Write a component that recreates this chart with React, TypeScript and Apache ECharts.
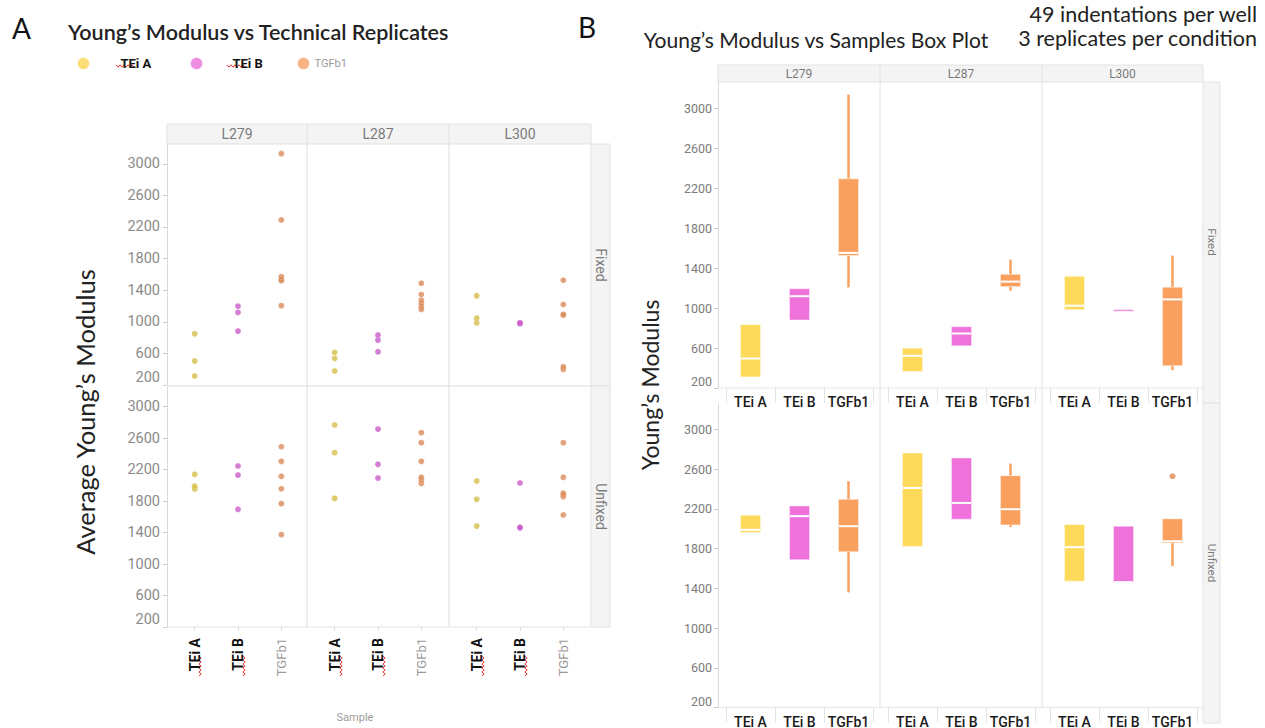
import React, { useEffect, useRef } from "react";
import * as echarts from "echarts";

// ---------- categories ----------
const groups = ["TEi A", "TEi B", "TGFb1"];
const cellLines = ["L279", "L287", "L300"];
const conditions = ["Fixed", "Unfixed"];
const yTickLabelsStart = 200;
const yTickStep = 400;

// ---------- Panel A: average Young's modulus per technical replicate ----------
// [TEi A, TEi B, TGFb1]
const fixedL279 = [[314, 503, 848], [882, 1118, 1197], [1204, 1520, 1530, 1571, 2289, 3128]];
const fixedL287 = [[377, 537, 613], [620, 768, 831], [1156, 1189, 1232, 1273, 1345, 1488]];
const fixedL300 = [[987, 1046, 1328], [975, 980, 987], [398, 431, 1084, 1093, 1219, 1526]];
const unfixedL279 = [[1955, 1990, 2140], [1696, 2131, 2246], [1373, 1767, 1957, 2115, 2305, 2491]];
const unfixedL287 = [[1835, 2415, 2767], [2093, 2267, 2715], [2026, 2068, 2102, 2305, 2542, 2669]];
const unfixedL300 = [[1483, 1823, 2055], [1460, 1467, 2030], [1623, 1856, 1877, 1899, 2102, 2542]];

// ---------- Panel B: box statistics [min, Q1, median, Q3, max] ----------
const boxFixedL279 = [[311, 311, 495, 833, 833], [880, 880, 1118, 1193, 1193], [1206, 1524, 1551, 2292, 3134]];
const boxFixedL287 = [[365, 365, 522, 598, 598], [622, 622, 745, 813, 813], [1174, 1214, 1264, 1337, 1484]];
const boxFixedL300 = [[983, 983, 1023, 1317, 1317], [972, 972, 976, 980, 980], [378, 422, 1086, 1208, 1524]];
const boxUnfixedL279 = [[1962, 1962, 1988, 2136, 2136], [1687, 1687, 2126, 2229, 2229], [1359, 1767, 2025, 2296, 2478]];
const boxUnfixedL287 = [[1821, 1821, 2410, 2762, 2762], [2096, 2096, 2259, 2712, 2712], [2015, 2038, 2196, 2534, 2655]];
const boxUnfixedL300 = [[1472, 1472, 1814, 2042, 2042], [1455, 1455, 1462, 2025, 2025], [1623, 1857, 1874, 2099, 2099]];
// outliers: [group index, value]
const outliersUnfixedL300 = [[2, 2528]];

const pointsA = [
  [fixedL279, fixedL287, fixedL300],
  [unfixedL279, unfixedL287, unfixedL300],
];
const boxesB = [
  [boxFixedL279, boxFixedL287, boxFixedL300],
  [boxUnfixedL279, boxUnfixedL287, boxUnfixedL300],
];

// ---------- styles ----------
const boxColors = ["#FEDA5A", "#EE72DA", "#F9A05E"];
const dotColors = ["#D6BE48", "#C95CC9", "#DB8B58"];
const legendColors = ["#F9D552", "#E96FD8", "#F5A063"];
const gridLine = "#DDDDDD";
const stripFill = "#F4F4F4";
const stripStroke = "#E2E2E2";
const tickFont = "Roboto, sans-serif";
const titleFont = "Lato, 'Open Sans', sans-serif";

// layout (pixels)
const colLeftA = [167, 307, 449];
const colRightA = [307, 449, 591];
const rowTopA = [144, 387];
const rowBotA = [385, 627];
const yMaxA = [3250, 3250];

const colLeftB = [718, 880, 1042];
const colRightB = [880, 1042, 1203];
const rowTopB = [82, 404];
const rowBotB = [388, 707.5];
const yMaxB = [3260, 3255];

function squiggleH(x0: number, x1: number, y: number) {
  const pts: number[][] = [];
  let i = 0;
  for (let x = x0; x <= x1; x += 2, i++) pts.push([x, y + (i % 2 ? 1.2 : -1.2)]);
  return { type: "polyline", silent: true, shape: { points: pts }, style: { stroke: "#E53935", lineWidth: 1, fill: null } };
}
function squiggleV(x: number, y0: number, y1: number) {
  const pts: number[][] = [];
  let i = 0;
  for (let y = y0; y <= y1; y += 2, i++) pts.push([x + (i % 2 ? 1.2 : -1.2), y]);
  return { type: "polyline", silent: true, shape: { points: pts }, style: { stroke: "#E53935", lineWidth: 1, fill: null } };
}
function line(x1: number, y1: number, x2: number, y2: number, color = gridLine) {
  return { type: "line", silent: true, shape: { x1, y1, x2, y2 }, style: { stroke: color, lineWidth: 1 } };
}
function rect(x: number, y: number, width: number, height: number) {
  return { type: "rect", silent: true, shape: { x, y, width, height }, style: { fill: stripFill, stroke: stripStroke, lineWidth: 1 } };
}
function text(x: number, y: number, t: string, style: any, rotation = 0) {
  return {
    type: "text",
    silent: true,
    x,
    y,
    rotation,
    style: { text: t, align: "center", verticalAlign: "middle", ...style },
  };
}

function buildOption() {
  const grid: any[] = [];
  const xAxis: any[] = [];
  const yAxis: any[] = [];
  const series: any[] = [];

  // ---------- Panel A ----------
  for (let r = 0; r < 2; r++) {
    for (let c = 0; c < 3; c++) {
      const i = grid.length;
      grid.push({
        left: colLeftA[c] + 6,
        width: 130,
        top: rowTopA[r],
        height: rowBotA[r] - rowTopA[r],
        outerBoundsMode: "none",
      });
      xAxis.push({
        type: "category",
        gridIndex: i,
        data: groups,
        boundaryGap: true,
        axisLine: { show: false },
        axisTick: r === 1 ? { show: true, alignWithLabel: true, length: 4, lineStyle: { color: "#DDDDDD" } } : { show: false },
        axisLabel:
          r === 1
            ? {
                show: true,
                rotate: 90,
                margin: 11,
                interval: 0,
                formatter: (v: string) => (v === "TGFb1" ? `{g|${v}}` : `{b|${v}}`),
                rich: {
                  b: { fontFamily: tickFont, fontWeight: "bold", fontSize: 14, color: "#111111" },
                  g: { fontFamily: tickFont, fontSize: 13, color: "#9A9A9A" },
                },
              }
            : { show: false },
        splitLine: { show: false },
      });
      yAxis.push({
        type: "value",
        gridIndex: i,
        min: yTickLabelsStart,
        max: yMaxA[r],
        interval: yTickStep,
        show: c === 0,
        offset: 6,
        axisLine: { show: true, lineStyle: { color: "#DADADA" } },
        axisTick: { show: true, length: 4, lineStyle: { color: "#CCCCCC" } },
        axisLabel: {
          fontFamily: tickFont,
          fontSize: 14.5,
          color: "#8A8A8A",
          margin: 7,
          showMaxLabel: false,
          verticalAlignMinLabel: "bottom",
          formatter: (v: number) => String(v),
        },
        splitLine: { show: false },
      });
      pointsA[r][c].forEach((vals, g) => {
        series.push({
          type: "scatter",
          name: groups[g],
          xAxisIndex: i,
          yAxisIndex: i,
          symbol: "circle",
          symbolSize: 6,
          itemStyle: { color: dotColors[g], borderColor: "rgba(255,255,255,0.5)", borderWidth: 0.5 },
          data: vals.map((v) => [groups[g], v]),
        });
      });
    }
  }

  // ---------- Panel B ----------
  for (let r = 0; r < 2; r++) {
    for (let c = 0; c < 3; c++) {
      const i = grid.length;
      grid.push({
        left: colLeftB[c] + 8,
        width: 147,
        top: rowTopB[r],
        height: rowBotB[r] - rowTopB[r],
        outerBoundsMode: "none",
      });
      xAxis.push({
        type: "category",
        gridIndex: i,
        data: groups,
        boundaryGap: true,
        axisLine: { show: false },
        axisTick: { show: true, length: 15, interval: 0, lineStyle: { color: "#E3E3E3" } },
        axisLabel: {
          show: true,
          interval: 0,
          margin: 7,
          fontFamily: tickFont,
          fontSize: 14,
          fontWeight: 500,
          color: "#1A1A1A",
        },
        splitLine: { show: false },
      });
      yAxis.push({
        type: "value",
        gridIndex: i,
        min: yTickLabelsStart,
        max: yMaxB[r],
        interval: yTickStep,
        show: c === 0,
        offset: 8,
        axisLine: { show: true, lineStyle: { color: "#DADADA" } },
        axisTick: { show: true, length: 4, lineStyle: { color: "#CCCCCC" } },
        axisLabel: {
          fontFamily: tickFont,
          fontSize: 12.5,
          color: "#7B7B7B",
          margin: 6,
          showMaxLabel: false,
          verticalAlignMinLabel: "bottom",
          formatter: (v: number) => String(v),
        },
        splitLine: { show: false },
      });
      series.push({
        type: "custom",
        name: `${cellLines[c]} ${conditions[r]}`,
        xAxisIndex: i,
        yAxisIndex: i,
        encode: { x: 0, y: [1, 2, 3, 4, 5] },
        data: boxesB[r][c].map((s, g) => [g, ...s]),
        renderItem: (params: any, api: any) => {
          const gi = api.value(0);
          const cx = api.coord([gi, api.value(3)])[0];
          const yMin = api.coord([gi, api.value(1)])[1];
          const yQ1 = api.coord([gi, api.value(2)])[1];
          const yMed = api.coord([gi, api.value(3)])[1];
          const yQ3 = api.coord([gi, api.value(4)])[1];
          const yMax = api.coord([gi, api.value(5)])[1];
          const w = api.size([1, 0])[0] * 0.41;
          const color = boxColors[gi];
          const children: any[] = [];
          if (yMin - yQ1 > 0.5)
            children.push({ type: "line", shape: { x1: cx, y1: yQ1, x2: cx, y2: yMin }, style: { stroke: color, lineWidth: 2.5 } });
          if (yQ3 - yMax > 0.5)
            children.push({ type: "line", shape: { x1: cx, y1: yMax, x2: cx, y2: yQ3 }, style: { stroke: color, lineWidth: 2.5 } });
          const h = yQ1 - yQ3;
          const hh = Math.max(h, 1.5);
          const top = h >= 1.5 ? yQ3 : (yQ1 + yQ3) / 2 - 0.75;
          children.push({
            type: "rect",
            shape: { x: cx - w / 2, y: top, width: w, height: hh },
            style: { fill: color, stroke: "rgba(255,255,255,0.45)", lineWidth: 1 },
          });
          if (h > 4)
            children.push({
              type: "line",
              shape: { x1: cx - w / 2 + 0.5, y1: yMed, x2: cx + w / 2 - 0.5, y2: yMed },
              style: { stroke: "#FFFFFF", lineWidth: 2 },
            });
          return { type: "group", children };
        },
      });
    }
  }
  // outlier in B, Unfixed / L300
  series.push({
    type: "scatter",
    name: "outlier",
    xAxisIndex: 11,
    yAxisIndex: 11,
    symbolSize: 6,
    itemStyle: { color: "#E0884F" },
    data: outliersUnfixedL300.map(([g, v]) => [groups[g], v]),
  });

  // ---------- graphics ----------
  const el: any[] = [];
  // Panel A frame
  el.push(rect(colLeftA[0], 124, colRightA[2] - colLeftA[0], 20));
  el.push(line(colLeftA[1], 124, colLeftA[1], 144, stripStroke), line(colLeftA[2], 124, colLeftA[2], 144, stripStroke));
  cellLines.forEach((l, c) =>
    el.push(text((colLeftA[c] + colRightA[c]) / 2, 134, l, { fontSize: 14, fill: "#7A7A7A", fontFamily: tickFont }))
  );
  el.push(rect(591, 144, 19, 242), rect(591, 386, 19, 241));
  el.push(text(600.5, 265, conditions[0], { fontSize: 14, fill: "#7A7A7A", fontFamily: tickFont }, -Math.PI / 2));
  el.push(text(600.5, 506.5, conditions[1], { fontSize: 14, fill: "#7A7A7A", fontFamily: tickFont }, -Math.PI / 2));
  el.push(line(colLeftA[1], 144, colLeftA[1], 627), line(colLeftA[2], 144, colLeftA[2], 627));
  el.push(line(167, 386, 591, 386), line(167, 627, 591, 627, "#E3E3E3"));

  // Panel B frame
  el.push(rect(colLeftB[0], 65, colRightB[2] - colLeftB[0], 17));
  el.push(line(colLeftB[1], 65, colLeftB[1], 82, stripStroke), line(colLeftB[2], 65, colLeftB[2], 82, stripStroke));
  cellLines.forEach((l, c) =>
    el.push(text((colLeftB[c] + colRightB[c]) / 2, 73.5, l, { fontSize: 12, fill: "#7A7A7A", fontFamily: tickFont }))
  );
  el.push(rect(1203, 82, 17, 321), rect(1203, 403, 17, 320));
  el.push(text(1211.5, 242, conditions[0], { fontSize: 11.5, fill: "#7A7A7A", fontFamily: tickFont }, -Math.PI / 2));
  el.push(text(1211.5, 563, conditions[1], { fontSize: 11.5, fill: "#7A7A7A", fontFamily: tickFont }, -Math.PI / 2));
  el.push(line(colLeftB[1], 82, colLeftB[1], 707.5, "#E2E2E2"), line(colLeftB[2], 82, colLeftB[2], 707.5, "#E2E2E2"));
  el.push(line(718, 388, 1203, 388, "#E6E6E6"), line(718, 707.5, 1203, 707.5, "#E6E6E6"));

  // Titles and labels
  el.push(text(12, 28, "A", { fontSize: 28, fill: "#111", fontFamily: titleFont, align: "left" }));
  el.push(
    text(68, 32, "Young’s Modulus vs Technical Replicates", {
      fontSize: 21.5,
      fontWeight: 600,
      fill: "#222",
      fontFamily: titleFont,
      align: "left",
    })
  );
  el.push(text(85, 412, "Average Young’s Modulus", { fontSize: 25.5, fill: "#222", fontFamily: titleFont }, Math.PI / 2));
  el.push(text(355, 717, "Sample", { fontSize: 11, fill: "#9A9A9A", fontFamily: tickFont }));
  el.push(text(578, 27, "B", { fontSize: 28, fill: "#111", fontFamily: titleFont, align: "left" }));
  el.push(text(816, 39, "Young’s Modulus vs Samples Box Plot", { fontSize: 21, fill: "#222", fontFamily: titleFont }));
  el.push(text(1257, 14, "49 indentations per well", { fontSize: 21.5, fill: "#222", fontFamily: titleFont, align: "right" }));
  el.push(text(1257, 38, "3 replicates per condition", { fontSize: 21.5, fill: "#222", fontFamily: titleFont, align: "right" }));
  el.push(text(650, 385, "Young’s Modulus", { fontSize: 23, fill: "#222", fontFamily: titleFont }, Math.PI / 2));

  // spell-check squiggles
  el.push(squiggleH(116, 135, 66), squiggleH(227, 246, 66));
  [200, 244, 341, 384, 483, 526].forEach((x) => el.push(squiggleV(x, 656, 676)));

  const legendDefs = [
    { left: 72, pad: 26, weight: "bold", color: "#111", size: 13 },
    { left: 185, pad: 25, weight: "bold", color: "#111", size: 13 },
    { left: 292, pad: 0, weight: "normal", color: "#9A9A9A", size: 11 },
  ];
  const legend = groups.map((g, k) => ({
    left: legendDefs[k].left,
    top: 52,
    itemWidth: 12,
    itemHeight: 12,
    selectedMode: false,
    data: [
      {
        name: g,
        icon: "circle",
        itemStyle: { color: legendColors[k], borderColor: "rgba(255,255,255,0.6)", borderWidth: 1 },
        textStyle: {
          fontFamily: tickFont,
          fontWeight: legendDefs[k].weight,
          color: legendDefs[k].color,
          fontSize: legendDefs[k].size,
          padding: [0, 0, 0, legendDefs[k].pad],
        },
      },
    ],
  }));

  return {
    animation: false,
    backgroundColor: "#FFFFFF",
    grid,
    xAxis,
    yAxis,
    series,
    legend,
    graphic: { elements: el },
  };
}

export default function App() {
  const ref = useRef<HTMLDivElement>(null);
  useEffect(() => {
    if (!ref.current) return;
    const chart = echarts.init(ref.current, null, { renderer: "svg" });
    chart.setOption(buildOption() as any);
    return () => chart.dispose();
  }, []);
  return <div ref={ref} style={{ position: "absolute", left: 0, top: 0, width: 1265, height: 728 }} />;
}
